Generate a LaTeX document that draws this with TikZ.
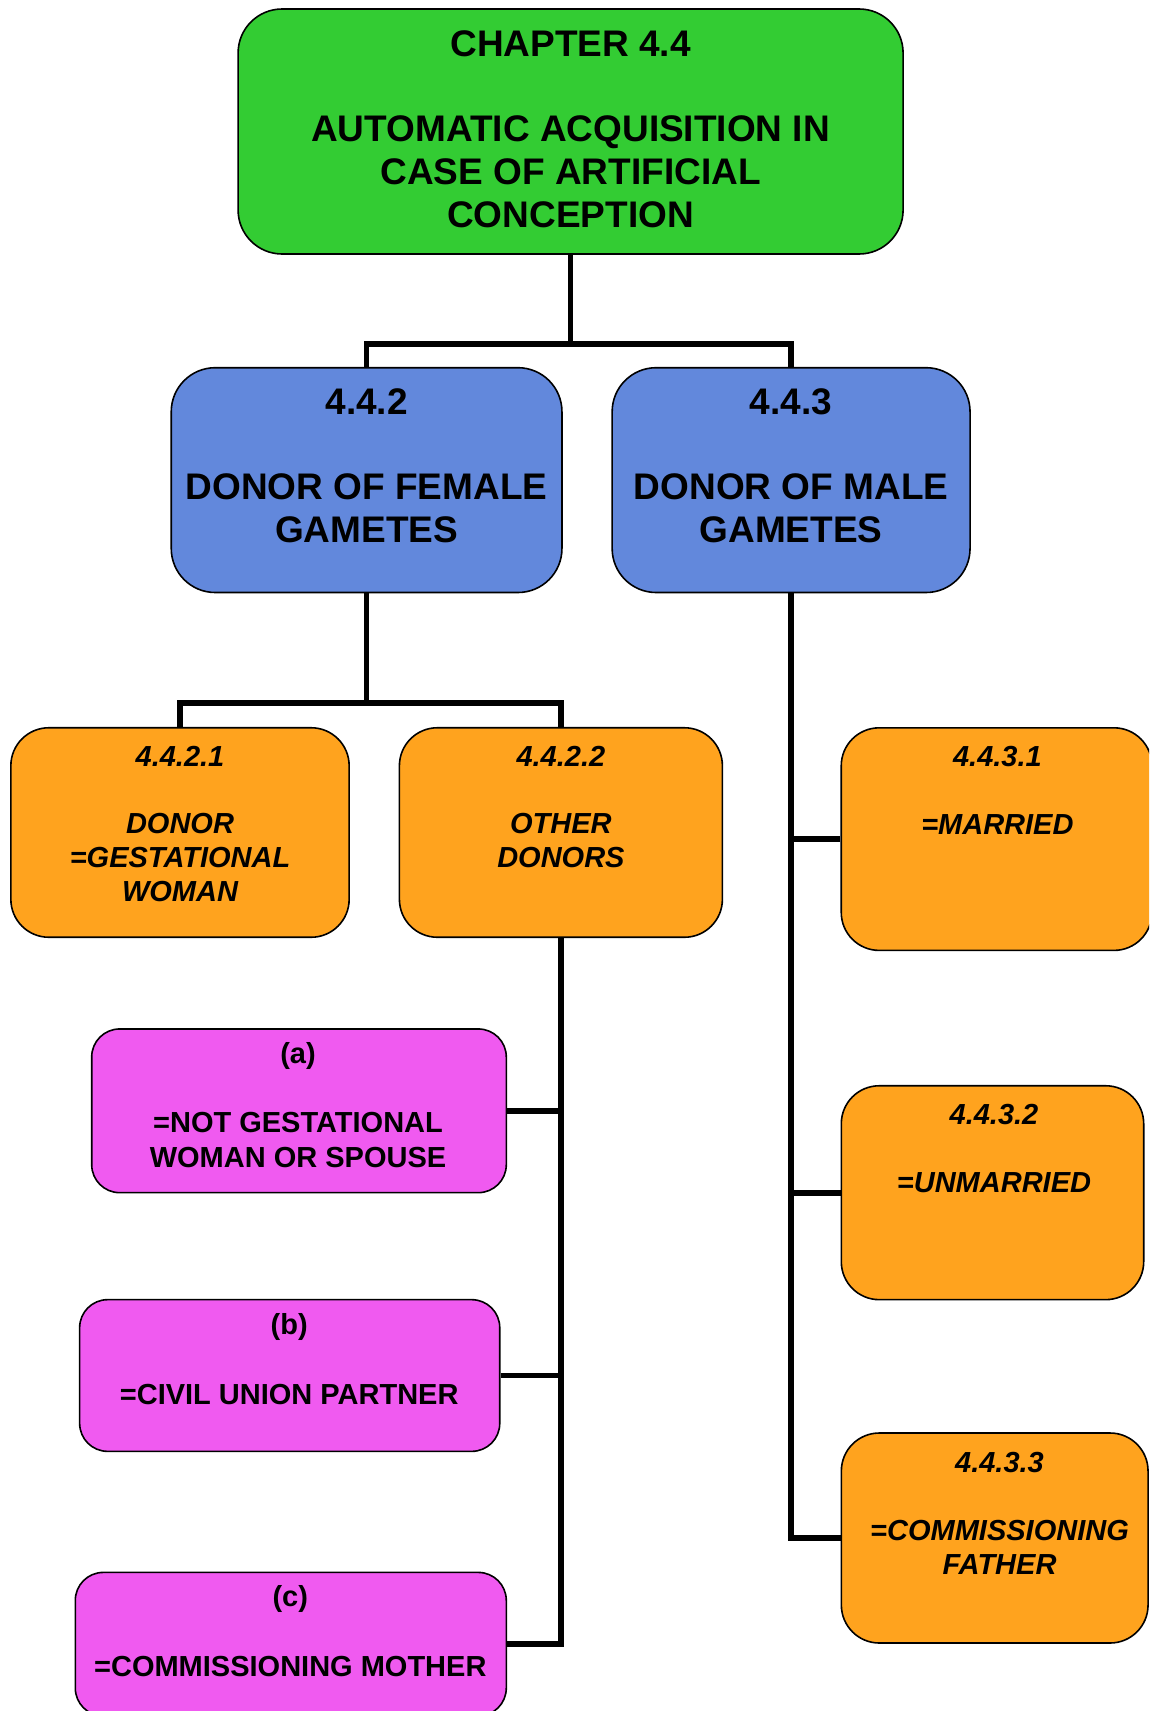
\documentclass[tikz,border=0pt]{standalone}
\usepackage{fontspec}
\setmainfont{Liberation Sans}
\definecolor{boxgreen}{RGB}{51,204,51}
\definecolor{boxblue}{RGB}{98,136,220}
\definecolor{boxorange}{RGB}{255,163,30}
\definecolor{boxpink}{RGB}{240,90,240}
\tikzset{
  box/.style={draw=black, line width=1.6pt, inner sep=0pt, rectangle},
  gbox/.style={box, fill=boxgreen, rounded corners=44pt},
  bbox/.style={box, fill=boxblue, rounded corners=44pt},
  obox/.style={box, fill=boxorange, rounded corners=38pt},
  pbox/.style={box, fill=boxpink, rounded corners=28pt},
  conn/.style={draw=black, line width=5.7pt},
  bigtxt/.style={font=\fontsize{37}{43}\selectfont\bfseries, align=center, inner sep=0pt, anchor=north},
  otxt/.style={font=\fontsize{29}{34}\selectfont\bfseries\itshape, align=center, inner sep=0pt, anchor=north},
  ptxt/.style={font=\fontsize{29}{35}\selectfont\bfseries, align=center, inner sep=0pt, anchor=north}
}
\begin{document}
\begin{tikzpicture}[x=1pt, y=-1pt]
\useasboundingbox (0,0) rectangle (1149,1711);
\clip (0,0) rectangle (1149,1711);

% junctions
\coordinate (j1) at (570.6,343.7);
\coordinate (j2) at (366.6,702.7);

% boxes
\node[gbox, minimum width=665pt, minimum height=245pt] (g) at (570.6,131.5) {};
\node[bbox, minimum width=390.7pt, minimum height=224.8pt] (bl) at (366.6,480.1) {};
\node[bbox, minimum width=357.9pt, minimum height=224.8pt] (br) at (791.1,480.1) {};
\node[obox, minimum width=338.3pt, minimum height=209.5pt] (o1) at (180,832.5) {};
\node[obox, minimum width=323pt, minimum height=209.5pt] (o2) at (560.9,832.5) {};
\node[obox, minimum width=310.7pt, minimum height=222.6pt] (o31) at (996.6,839.1) {};
\node[obox, minimum width=302.4pt, minimum height=213.9pt] (o32) at (992.5,1192.7) {};
\node[obox, minimum width=306.7pt, minimum height=210pt] (o33) at (994.7,1538) {};
\node[pbox, minimum width=414.6pt, minimum height=163.7pt] (pa) at (299,1110.8) {};
\node[pbox, minimum width=420.1pt, minimum height=151.7pt] (pb) at (289.7,1375.5) {};
\node[pbox, minimum width=431pt, minimum height=143.6pt] (pc) at (290.8,1644.2) {};

% connectors
\draw[conn] (g.south) -- (j1);
\draw[conn] (bl.north) |- (j1) -| (br.north);
\draw[conn] (bl.south) -- (j2);
\draw[conn] (o1.north) |- (j2) -| (o2.north);
\draw[conn] (o2.south) |- (pc.east);
\draw[conn] (pa.east) -- (pa.east -| o2.south);
\draw[conn] (pb.east) -- (pb.east -| o2.south);
\draw[conn] (br.south) |- (o33.west);
\draw[conn] (o31.west) -- (o31.west -| br.south);
\draw[conn] (o32.west) -- (o32.west -| br.south);

% texts
\node[bigtxt] (gt) at (570.6,30.4) {CHAPTER 4.4\\[42pt]AUTOMATIC ACQUISITION IN\\CASE OF ARTIFICIAL\\CONCEPTION};
\node[bigtxt] (blt) at (366.6,388.4) {4.4.2\\[42pt]DONOR OF FEMALE\\GAMETES};
\node[bigtxt] (brt) at (791.1,388.4) {4.4.3\\[42pt]DONOR OF MALE\\GAMETES};
\node[otxt] (o1t) at (180,745.8) {4.4.2.1\\[33pt]DONOR\\=GESTATIONAL\\WOMAN};
\node[otxt] (o2t) at (560.9,745.8) {4.4.2.2\\[33pt]OTHER\\DONORS};
\node[otxt] (o31t) at (997.4,745.8) {4.4.3.1\\[34pt]=MARRIED};
\node[otxt] (o32t) at (994,1103.7) {4.4.3.2\\[34pt]=UNMARRIED};
\node[otxt] (o33t) at (999.5,1451.8) {4.4.3.3\\[34pt]=COMMISSIONING\\FATHER};
\node[ptxt] (pat) at (298,1042.6) {(a)\\[34pt]=NOT GESTATIONAL\\WOMAN OR SPOUSE};
\node[ptxt] (pbt) at (289.2,1313.2) {(b)\\[35pt]=CIVIL UNION PARTNER};
\node[ptxt] (pct) at (290.3,1584.9) {(c)\\[35pt]=COMMISSIONING MOTHER};
\end{tikzpicture}
\end{document}
